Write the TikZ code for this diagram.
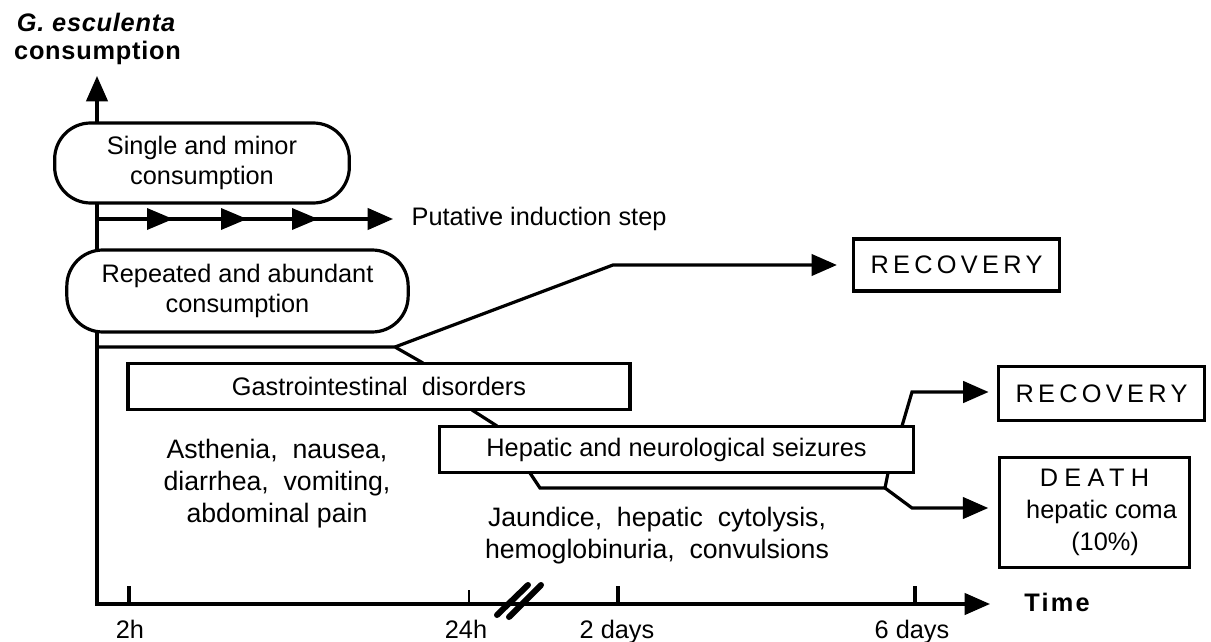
\documentclass[tikz,border=0pt]{standalone}
\usepackage{fontspec}
\setmainfont{Liberation Sans}
\newfontfamily\labfont[LetterSpace=3]{Liberation Sans}
\newfontfamily\timefont[LetterSpace=9]{Liberation Sans}
\newfontfamily\widefont[LetterSpace=17]{Liberation Sans}
\newfontfamily\widerfont[LetterSpace=25]{Liberation Sans}
\usetikzlibrary{arrows.meta}
\tikzset{every picture/.style={line width=2.4pt}}
\tikzset{
	cbox/.style={draw, fill=white, rounded corners=27pt, align=center, inner sep=0pt},
	pbox/.style={draw, fill=white, align=center, inner sep=0pt},
	tri/.style={-{Triangle[length=19pt,width=16pt]}},
	symtext/.style={align=center, font=\fontsize{20}{24}\selectfont},
	ticklab/.style={anchor=base}}

\begin{document}
\begin{tikzpicture}[x=0.75pt,y=0.75pt,yscale=-1,xscale=1,font=\fontsize{19}{22.5}\selectfont]
	\useasboundingbox (0,0) rectangle (1211,642);

	% Axes
	\coordinate (origin) at (97,604);
	\coordinate (ytip) at (97,76);
	\coordinate (xtip) at (990,604);
	\draw [{Triangle[length=19pt,width=16pt]}-{Triangle[length=19pt,width=16pt]}] (ytip) -- (origin) -- (xtip);
	% ticks
	\foreach \x in {129,618,915} \draw (\x,604) -- (\x,586);
	\draw [line width=1pt] (469,604) -- (469,590);
	% axis break
	\draw [line width=4.5pt, line cap=round] (497,615) -- (528,585) (509,617) -- (541,585);

	% Axis labels
	\node [font=\labfont\bfseries\itshape\fontsize{19}{22}\selectfont] (ylab) at (96,22) {G. esculenta};
	\node [font=\labfont\bfseries\fontsize{19}{22}\selectfont] (ylab2) at (97.5,53) {consumption};
	\node [font=\timefont\bfseries\fontsize{19}{22}\selectfont] (xlab) at (1057,602) {Time};
	\node [ticklab] (t2h) at (130,638) {2h};
	\node [ticklab] (t24h) at (466,638) {24h};
	\node [ticklab] (t2d) at (617,638) {2 days};
	\node [ticklab] (t6d) at (912,638) {6 days};

	% Boxes
	\node [cbox, minimum width=221pt, minimum height=60pt] (single) at (202,163) {Single and minor\\consumption};
	\node [cbox, minimum width=256pt, minimum height=61.5pt] (repeated) at (237.5,291) {Repeated and abundant\\consumption};
	\node [pbox, minimum width=376.5pt, minimum height=35pt] (gi) at (379,386.5) {Gastrointestinal \ disorders};
	\node [pbox, minimum width=355pt, minimum height=35pt] (hep) at (676.5,449.5) {Hepatic and neurological seizures};
	\node [pbox, minimum width=155pt, minimum height=39pt, font=\widefont\fontsize{19}{22.5}\selectfont] (rec1) at (956.5,265) {RECOVERY};
	\node [pbox, minimum width=155pt, minimum height=40pt, font=\widefont\fontsize{19}{22.5}\selectfont] (rec2) at (1101.5,393.5) {RECOVERY};
	\node [pbox, minimum width=143pt, minimum height=83pt, font=\fontsize{19}{24}\selectfont] (death) at (1094.5,512.5) {{\widerfont DEATH}\\\ \ hepatic coma\\\ \ \ (10\%)};

	% Symptoms
	\node [symtext] (gisym) at (277,484) {Asthenia, \ nausea,\\diarrhea, \ vomiting,\\abdominal pain};
	\node [symtext] (hepsym) at (657,536) {Jaundice, \ hepatic \ cytolysis,\\hemoglobinuria, \ convulsions};

	% Induction step
	\node [anchor=west, inner sep=0pt] (induct) at (410,219) {Putative induction step};
	\coordinate (ind0) at (97,219);
	\draw [tri, shorten >=12.75pt] (ind0) -- (induct.west);
	\foreach \x in {173,247,318} \fill (\x,219) -- ++(-26,-11) -- ++(0,22) -- cycle;

	% Course after abundant consumption
	\coordinate (split) at (97,347);
	\coordinate (fork) at (395,347);
	\coordinate (bend1) at (613,265);
	\coordinate (gitop) at (423,363);
	\draw (split) -- (fork) -- (gitop);
	\draw [tri, shorten >=11pt] (fork) -- (bend1) -- (rec1.west);

	\coordinate (gibot) at (472,410);
	\coordinate (heptop) at (497,426);
	\draw (gibot) -- (heptop);

	\coordinate (hepbl) at (530,473);
	\coordinate (lowl) at (540,488);
	\coordinate (join) at (885,488);
	\coordinate (hepbr) at (888,473);
	\coordinate (bend3) at (912,508);
	\draw (hepbl) -- (lowl) -- (join) -- (hepbr);
	\draw [tri, shorten >=7pt] (join) -- (bend3) -- (bend3 -| death.west);

	\coordinate (hepout) at (902,426);
	\coordinate (bend2) at (912,392);
	\draw [tri, shorten >=6pt] (hepout) -- (bend2) -- (bend2 -| rec2.west);

\end{tikzpicture}
\end{document}
